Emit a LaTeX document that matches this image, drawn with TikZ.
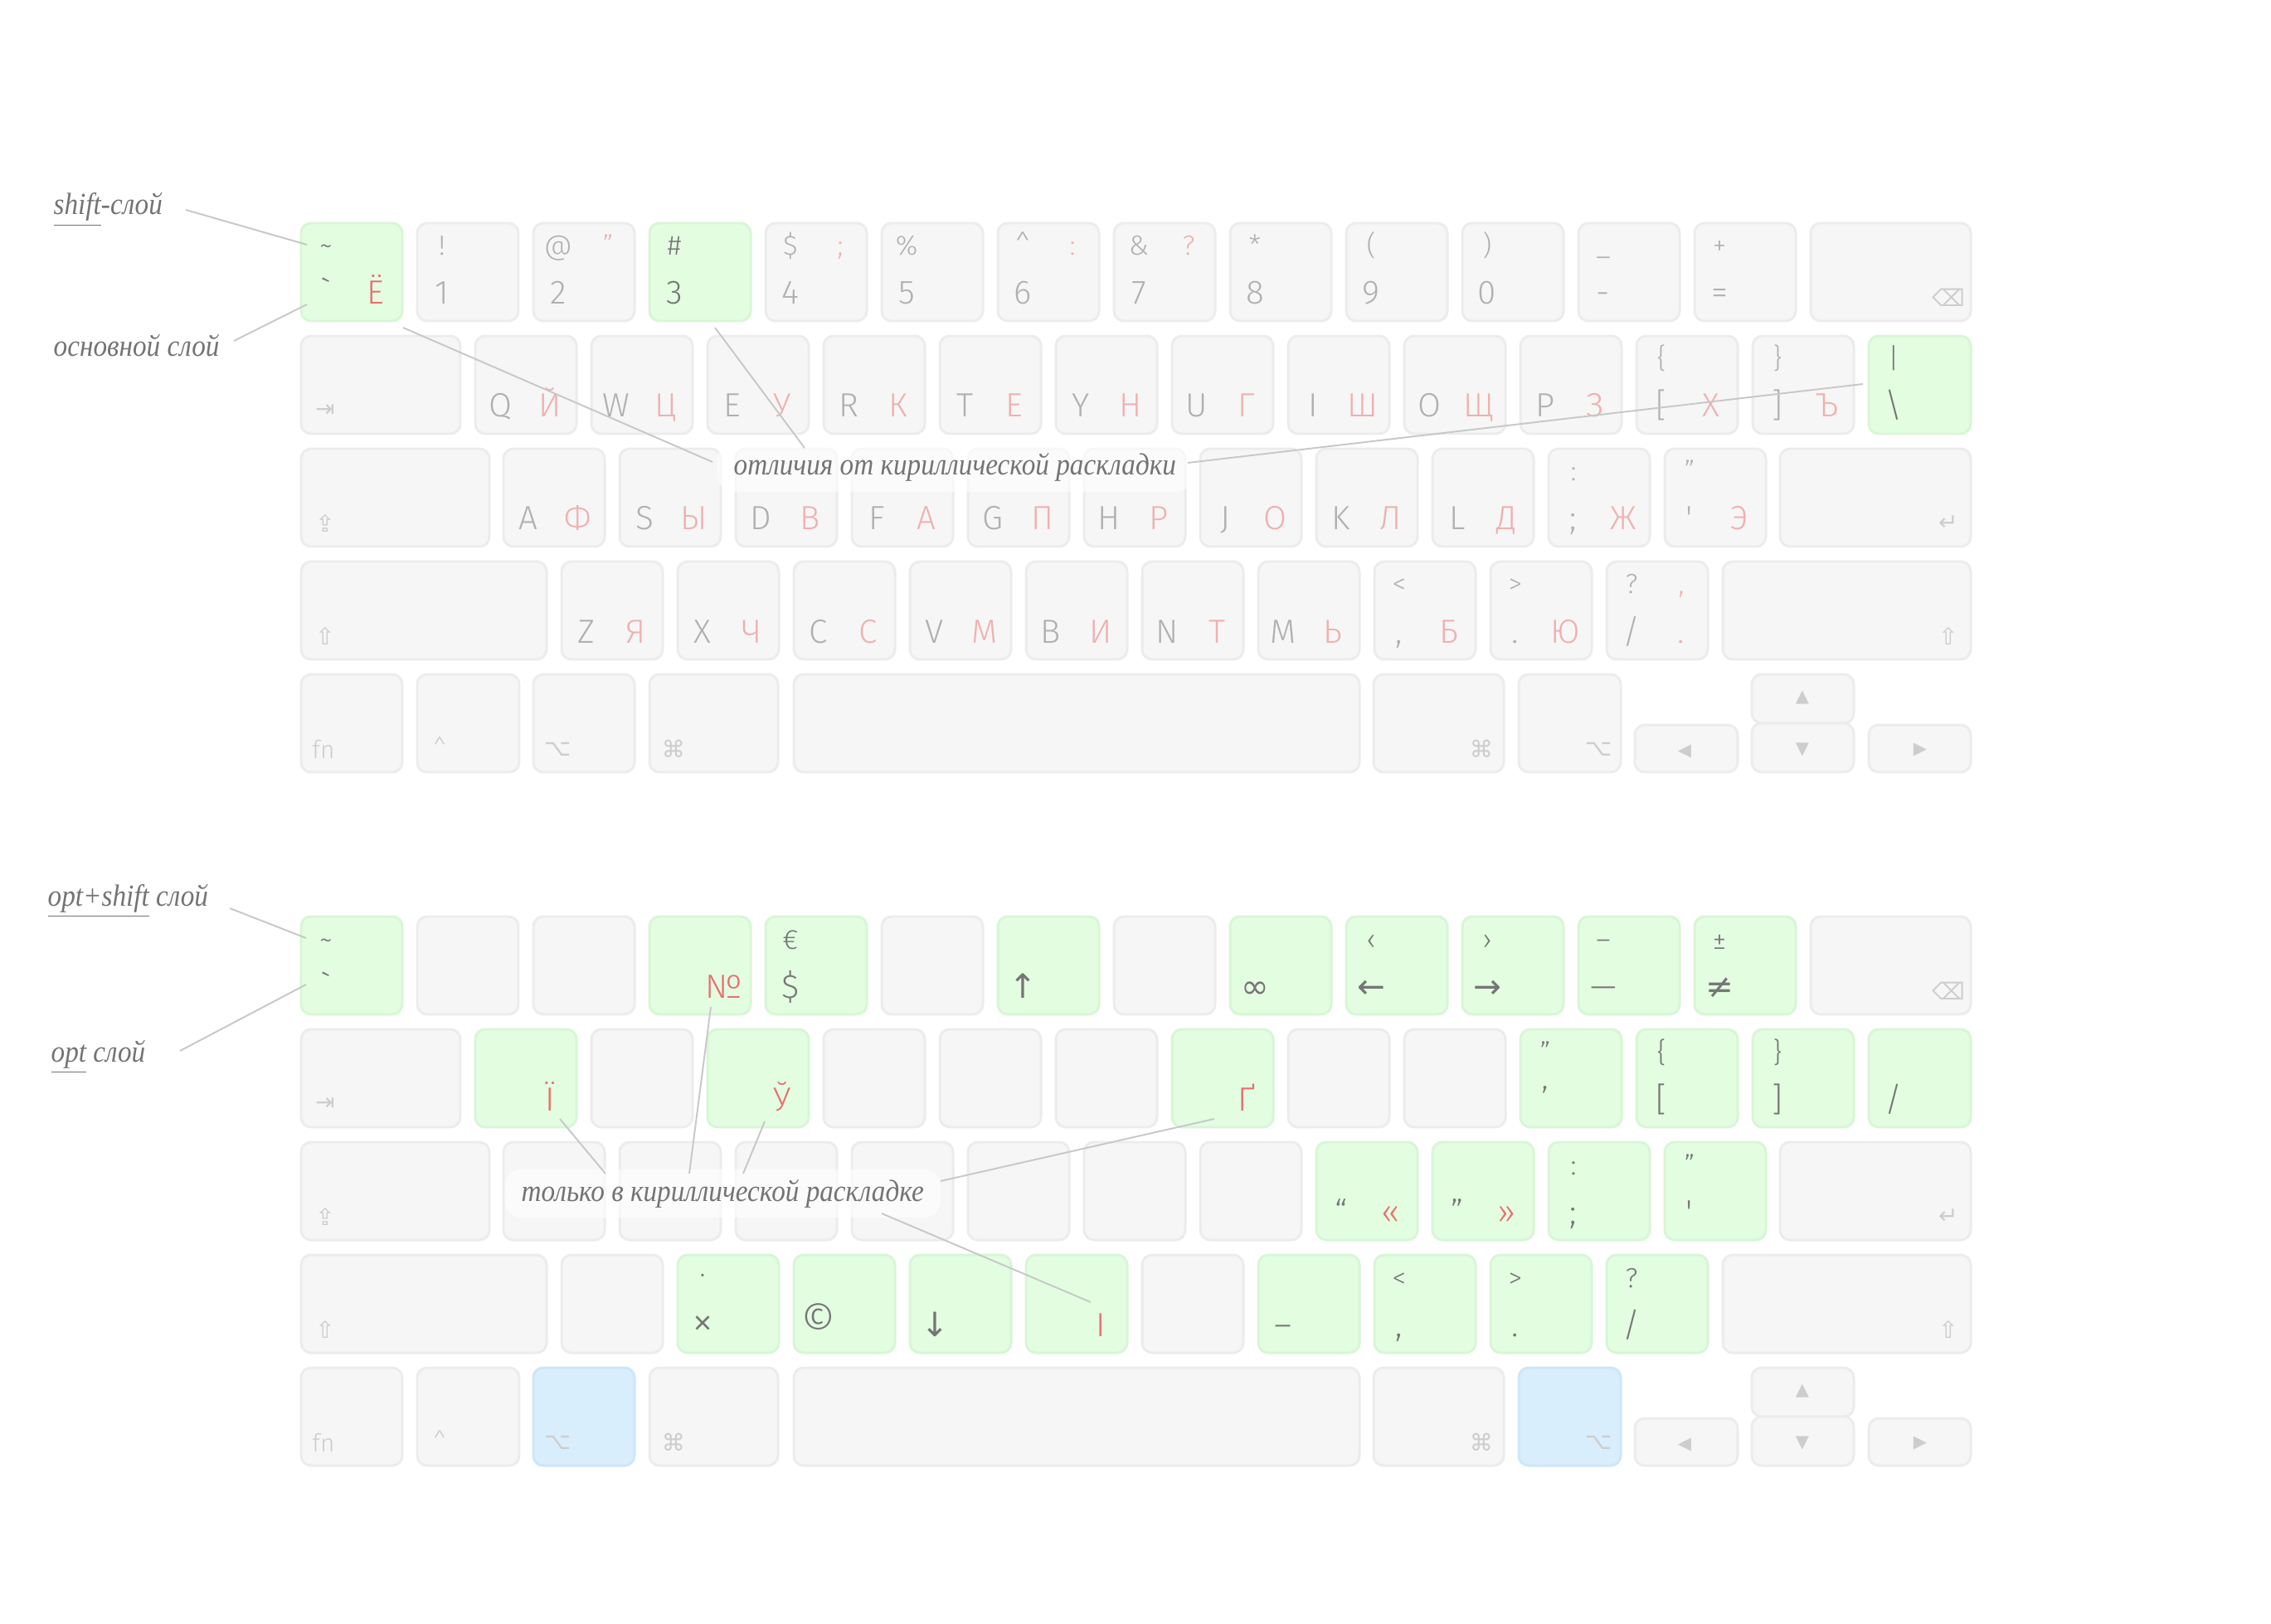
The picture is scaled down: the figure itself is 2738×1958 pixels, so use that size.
\documentclass[tikz,border=0pt]{standalone}
\usepackage{fontspec}
\setmainfont{Fira Sans Light}
\newfontfamily\symf{DejaVu Sans}
\newfontfamily\handf{Liberation Serif}[FakeStretch=0.9]
\usetikzlibrary{calc}
\definecolor{keyfill}{HTML}{F6F6F6}
\definecolor{keyline}{HTML}{ECECEC}
\definecolor{gfill}{HTML}{E3FDE1}
\definecolor{gline}{HTML}{D8F6D6}
\definecolor{bfill}{HTML}{D8EEFC}
\definecolor{bline}{HTML}{CDE6F9}
\definecolor{lgray}{HTML}{B0B0B0}
\definecolor{lpink}{HTML}{F0B0B0}
\definecolor{dgray}{HTML}{767676}
\definecolor{dred}{HTML}{EA6E6E}
\definecolor{iconc}{HTML}{CDCDCD}
\definecolor{annc}{HTML}{747474}
\definecolor{leadc}{HTML}{C8C8C8}

\newcommand\kKey[5]{\edef\kn{#1}\expandafter\kKeyX\expandafter{\kn}{#2}{#3}{#4}{#5}}
\newcommand\kKeyX[5]{\node[kk,ks-#1/.try,minimum width=#4*0.01cm,minimum height=#5*0.01cm] (#1) at ({#2+#4/2},{#3+#5/2}) {};}
\newcommand\kLab[6]{\node[#5] (#1) at ($(#2.north west)+(#3,#4)$) {#6};}
\newcommand\kTL[3]{\kLab{#1-tl}{#1}{30}{39}{smalllab,text=#2}{#3}}
\newcommand\kTR[3]{\kLab{#1-tr}{#1}{90}{39}{smalllab,text=#2}{#3}}
\newcommand\kBL[3]{\kLab{#1-bl}{#1}{30}{98}{biglab,text=#2}{#3}}
\newcommand\kBR[3]{\kLab{#1-br}{#1}{90}{98}{biglab,text=#2}{#3}}
\newcommand\kIcL[2]{\node[icolab] (#1-ic) at ($(#1.north west)+(29,90)$) {#2};}
\newcommand\kIcR[2]{\node[icolab] (#1-ic) at ($(#1.north east)+(-27,90)$) {#2};}

\newcommand\kBoard[2]{%
 \foreach \i in {0,...,12}{\kKey{#11c\i}{363+140*\i}{269+#2}{122}{118}}
 \kKey{#11bs}{2183}{269+#2}{193}{118}
 \kKey{#12tab}{363}{405+#2}{192}{118}
 \foreach \i in {0,...,11}{\kKey{#12c\i}{573+140*\i}{405+#2}{122}{118}}
 \kKey{#12bsl}{2253}{405+#2}{123}{118}
 \kKey{#13caps}{363}{541+#2}{227}{118}
 \foreach \i in {0,...,10}{\kKey{#13c\i}{607+140*\i}{541+#2}{122}{118}}
 \kKey{#13ret}{2146}{541+#2}{230}{118}
 \kKey{#14sh}{363}{677+#2}{296}{118}
 \foreach \i in {0,...,9}{\kKey{#14c\i}{677+140*\i}{677+#2}{122}{118}}
 \kKey{#14rsh}{2077}{677+#2}{299}{118}
 \kKey{#15fn}{363}{813+#2}{122}{118}
 \kKey{#15ctl}{503}{813+#2}{123}{118}
 \kKey{#15opt}{643}{813+#2}{122}{118}
 \kKey{#15cmd}{783}{813+#2}{155}{118}
 \kKey{#15sp}{957}{813+#2}{682}{118}
 \kKey{#15rcmd}{1656}{813+#2}{157}{118}
 \kKey{#15ropt}{1831}{813+#2}{123}{118}
 \kKey{#15left}{1971}{874+#2}{124}{57}
 \kKey{#15up}{2112}{813+#2}{123}{59}
 \kKey{#15down}{2112}{872+#2}{123}{59}
 \kKey{#15right}{2253}{874+#2}{123}{57}
 \kIcR{#11bs}{⌫}
 \kIcL{#12tab}{⇥}
 \kIcL{#13caps}{⇪}
 \kIcR{#13ret}{↵}
 \kIcL{#14sh}{⇧}
 \kIcR{#14rsh}{⇧}
 \node[icolab,font=\fontsize{8.5}{10}\selectfont] (#15fn-ic) at ($(#15fn.north west)+(27,90)$) {fn};
 \node[icolab,font=\fontsize{8.5}{10}\selectfont] (#15ctl-ic) at ($(#15ctl.north west)+(27,88)$) {\textasciicircum};
 \kIcL{#15opt}{⌥}
 \kIcL{#15cmd}{⌘}
 \kIcR{#15rcmd}{⌘}
 \kIcR{#15ropt}{⌥}
 \node[icolab,font=\symf\fontsize{6}{7}\selectfont] (#15left-ic) at ($(#15left.north west)+(60,32)$) {◀};
 \node[icolab,font=\symf\fontsize{6}{7}\selectfont] (#15up-ic) at ($(#15up.north west)+(61,28)$) {▲};
 \node[icolab,font=\symf\fontsize{6}{7}\selectfont] (#15down-ic) at ($(#15down.north west)+(61,32)$) {▼};
 \node[icolab,font=\symf\fontsize{6}{7}\selectfont] (#15right-ic) at ($(#15right.north west)+(62,30)$) {▶};
}

\tikzset{
 ks-a1c0/.style=gk, ks-a1c3/.style=gk, ks-a2bsl/.style=gk,
 ks-b1c0/.style=gk, ks-b1c3/.style=gk, ks-b1c4/.style=gk, ks-b1c6/.style=gk,
 ks-b1c8/.style=gk, ks-b1c9/.style=gk, ks-b1c10/.style=gk, ks-b1c11/.style=gk, ks-b1c12/.style=gk,
 ks-b2c0/.style=gk, ks-b2c2/.style=gk, ks-b2c6/.style=gk, ks-b2c9/.style=gk,
 ks-b2c10/.style=gk, ks-b2c11/.style=gk, ks-b2bsl/.style=gk,
 ks-b3c7/.style=gk, ks-b3c8/.style=gk, ks-b3c9/.style=gk, ks-b3c10/.style=gk,
 ks-b4c1/.style=gk, ks-b4c2/.style=gk, ks-b4c3/.style=gk, ks-b4c4/.style=gk,
 ks-b4c6/.style=gk, ks-b4c7/.style=gk, ks-b4c8/.style=gk, ks-b4c9/.style=gk,
 ks-b5opt/.style=bk, ks-b5ropt/.style=bk
}

\begin{document}
\begin{tikzpicture}[x=0.01cm,y=-0.01cm,
 kk/.style={draw=keyline,fill=keyfill,line width=0.85pt,rounded corners=0.12cm,inner sep=0pt,outer sep=0pt},
 gk/.style={draw=gline,fill=gfill},
 bk/.style={draw=bline,fill=bfill},
 lab/.style={inner sep=0pt,outer sep=0pt,anchor=base},
 biglab/.style={lab,font=\fontsize{11.5}{13}\selectfont},
 smalllab/.style={lab,font=\fontsize{9.5}{11}\selectfont},
 icolab/.style={inner sep=0pt,anchor=center,text=iconc,font=\symf\fontsize{8}{9}\selectfont},
 ann/.style={inner sep=0pt,anchor=base west,text=annc,font=\handf\itshape\fontsize{10.5}{12}\selectfont},
 glow/.style={fill=white,fill opacity=0.6,rounded corners=0.2cm,inner xsep=0.2cm,inner ysep=0.12cm,anchor=base west},
 lead/.style={draw=leadc,line width=0.55pt}
]
\useasboundingbox (0,0) rectangle (2738,1958);
\fill[white] (0,0) rectangle (2738,1958);

% ---------------- top keyboard ----------------
\kBoard{a}{0}
% row 1
\kTL{a1c0}{dgray}{\textasciitilde}\kBL{a1c0}{dgray}{\textasciigrave}\kBR{a1c0}{dred}{Ё}
\kTL{a1c1}{lgray}{!}\kBL{a1c1}{lgray}{1}
\kTL{a1c2}{lgray}{@}\kTR{a1c2}{lpink}{"}\kBL{a1c2}{lgray}{2}
\kTL{a1c3}{dgray}{\#}\kBL{a1c3}{dgray}{3}
\kTL{a1c4}{lgray}{\$}\kTR{a1c4}{lpink}{;}\kBL{a1c4}{lgray}{4}
\kTL{a1c5}{lgray}{\%}\kBL{a1c5}{lgray}{5}
\kTL{a1c6}{lgray}{\textasciicircum}\kTR{a1c6}{lpink}{:}\kBL{a1c6}{lgray}{6}
\kTL{a1c7}{lgray}{\&}\kTR{a1c7}{lpink}{?}\kBL{a1c7}{lgray}{7}
\kTL{a1c8}{lgray}{*}\kBL{a1c8}{lgray}{8}
\kTL{a1c9}{lgray}{(}\kBL{a1c9}{lgray}{9}
\kTL{a1c10}{lgray}{)}\kBL{a1c10}{lgray}{0}
\kTL{a1c11}{lgray}{\_}\kBL{a1c11}{lgray}{-}
\kTL{a1c12}{lgray}{+}\kBL{a1c12}{lgray}{=}
% row 2
\kBL{a2c0}{lgray}{Q}\kBR{a2c0}{lpink}{Й}
\kBL{a2c1}{lgray}{W}\kBR{a2c1}{lpink}{Ц}
\kBL{a2c2}{lgray}{E}\kBR{a2c2}{lpink}{У}
\kBL{a2c3}{lgray}{R}\kBR{a2c3}{lpink}{К}
\kBL{a2c4}{lgray}{T}\kBR{a2c4}{lpink}{Е}
\kBL{a2c5}{lgray}{Y}\kBR{a2c5}{lpink}{Н}
\kBL{a2c6}{lgray}{U}\kBR{a2c6}{lpink}{Г}
\kBL{a2c7}{lgray}{I}\kBR{a2c7}{lpink}{Ш}
\kBL{a2c8}{lgray}{O}\kBR{a2c8}{lpink}{Щ}
\kBL{a2c9}{lgray}{P}\kBR{a2c9}{lpink}{З}
\kTL{a2c10}{lgray}{\{}\kBL{a2c10}{lgray}{[}\kBR{a2c10}{lpink}{Х}
\kTL{a2c11}{lgray}{\}}\kBL{a2c11}{lgray}{]}\kBR{a2c11}{lpink}{Ъ}
\kTL{a2bsl}{dgray}{|}\kBL{a2bsl}{dgray}{\textbackslash}
% row 3
\kBL{a3c0}{lgray}{A}\kBR{a3c0}{lpink}{Ф}
\kBL{a3c1}{lgray}{S}\kBR{a3c1}{lpink}{Ы}
\kBL{a3c2}{lgray}{D}\kBR{a3c2}{lpink}{В}
\kBL{a3c3}{lgray}{F}\kBR{a3c3}{lpink}{А}
\kBL{a3c4}{lgray}{G}\kBR{a3c4}{lpink}{П}
\kBL{a3c5}{lgray}{H}\kBR{a3c5}{lpink}{Р}
\kBL{a3c6}{lgray}{J}\kBR{a3c6}{lpink}{О}
\kBL{a3c7}{lgray}{K}\kBR{a3c7}{lpink}{Л}
\kBL{a3c8}{lgray}{L}\kBR{a3c8}{lpink}{Д}
\kTL{a3c9}{lgray}{:}\kBL{a3c9}{lgray}{;}\kBR{a3c9}{lpink}{Ж}
\kTL{a3c10}{lgray}{"}\kBL{a3c10}{lgray}{\textquotesingle}\kBR{a3c10}{lpink}{Э}
% row 4
\kBL{a4c0}{lgray}{Z}\kBR{a4c0}{lpink}{Я}
\kBL{a4c1}{lgray}{X}\kBR{a4c1}{lpink}{Ч}
\kBL{a4c2}{lgray}{C}\kBR{a4c2}{lpink}{С}
\kBL{a4c3}{lgray}{V}\kBR{a4c3}{lpink}{М}
\kBL{a4c4}{lgray}{B}\kBR{a4c4}{lpink}{И}
\kBL{a4c5}{lgray}{N}\kBR{a4c5}{lpink}{Т}
\kBL{a4c6}{lgray}{M}\kBR{a4c6}{lpink}{Ь}
\kTL{a4c7}{lgray}{<}\kBL{a4c7}{lgray}{,}\kBR{a4c7}{lpink}{Б}
\kTL{a4c8}{lgray}{>}\kBL{a4c8}{lgray}{.}\kBR{a4c8}{lpink}{Ю}
\kTL{a4c9}{lgray}{?}\kTR{a4c9}{lpink}{,}\kBL{a4c9}{lgray}{/}\kBR{a4c9}{lpink}{.}

% ---------------- bottom keyboard ----------------
\kBoard{b}{836}
\kTL{b1c0}{dgray}{\textasciitilde}\kBL{b1c0}{dgray}{\textasciigrave}
\kBR{b1c3}{dred}{№}
\kTL{b1c4}{dgray}{€}\kBL{b1c4}{dgray}{\$}
\kBL{b1c6}{dgray}{\symf ↑}
\kBL{b1c8}{dgray}{\symf ∞}
\kTL{b1c9}{dgray}{‹}\kBL{b1c9}{dgray}{\symf ←}
\kTL{b1c10}{dgray}{›}\kBL{b1c10}{dgray}{\symf →}
\kTL{b1c11}{dgray}{–}\kBL{b1c11}{dgray}{—}
\kTL{b1c12}{dgray}{±}\kBL{b1c12}{dgray}{\symf ≠}
\kBR{b2c0}{dred}{Ї}
\kBR{b2c2}{dred}{Ў}
\kBR{b2c6}{dred}{Ґ}
\kTL{b2c9}{dgray}{”}\kBL{b2c9}{dgray}{’}
\kTL{b2c10}{dgray}{\{}\kBL{b2c10}{dgray}{[}
\kTL{b2c11}{dgray}{\}}\kBL{b2c11}{dgray}{]}
\kBL{b2bsl}{dgray}{/}
\kBL{b3c7}{dgray}{“}\kBR{b3c7}{dred}{«}
\kBL{b3c8}{dgray}{”}\kBR{b3c8}{dred}{»}
\kTL{b3c9}{dgray}{:}\kBL{b3c9}{dgray}{;}
\kTL{b3c10}{dgray}{"}\kBL{b3c10}{dgray}{\textquotesingle}
\kLab{b4c1-tl}{b4c1}{30}{35}{smalllab,text=dgray}{·}
\kLab{b4c1-bl}{b4c1}{30}{98}{biglab,text=dgray,font=\fontsize{15}{16}\selectfont}{×}
\kLab{b4c2-bl}{b4c2}{30}{97}{biglab,text=dgray,font=\fontsize{15}{16}\selectfont}{©}
\kBL{b4c3}{dgray}{\symf ↓}
\kBR{b4c4}{dred}{І}
\kBL{b4c6}{dgray}{–}
\kTL{b4c7}{dgray}{<}\kBL{b4c7}{dgray}{,}
\kTL{b4c8}{dgray}{>}\kBL{b4c8}{dgray}{.}
\kTL{b4c9}{dgray}{?}\kBL{b4c9}{dgray}{/}

% ---------------- annotations ----------------
\node[glow] (diffglow) at (864,573) {\phantom{\handf\itshape\fontsize{10.5}{12}\selectfont отличия от кириллической раскладки}};
\node[glow] (onlyglow) at (608,1448) {\phantom{\handf\itshape\fontsize{10.5}{12}\selectfont только в кириллической раскладке}};

\coordinate (L1a) at (224,253); \coordinate (L1b) at (370,295);
\coordinate (L2a) at (282,411); \coordinate (L2b) at (370,367);
\coordinate (L3a) at (859,557); \coordinate (L3b) at (486,395);
\coordinate (L4a) at (970,540); \coordinate (L4b) at (862,395);
\coordinate (L5a) at (1432,558); \coordinate (L5b) at (2246,463);
\coordinate (L6a) at (277,1095); \coordinate (L6b) at (369,1131);
\coordinate (L7a) at (217,1267); \coordinate (L7b) at (369,1187);
\coordinate (L8a) at (730,1415); \coordinate (L8b) at (675,1349);
\coordinate (L9a) at (831,1415); \coordinate (L9b) at (857,1214);
\coordinate (L10a) at (896,1415); \coordinate (L10b) at (922,1352);
\coordinate (L11a) at (1134,1424); \coordinate (L11b) at (1464,1349);
\coordinate (L12a) at (1063,1463); \coordinate (L12b) at (1315,1570);
\foreach \n in {1,...,12}{\draw[lead] (L\n a) -- (L\n b);}

\node[ann] (shiftlab) at (64,259) {\underline{shift}-слой};
\node[ann] (mainlab) at (64,430) {основной слой};
\node[ann] (difflab) at (884,573) {отличия от кириллической раскладки};
\node[ann] (osl) at (57,1092) {\underline{opt+shift} слой};
\node[ann] (ol) at (61,1280) {\underline{opt} слой};
\node[ann] (onlylab) at (628,1448) {только в кириллической раскладке};
\end{tikzpicture}
\end{document}
